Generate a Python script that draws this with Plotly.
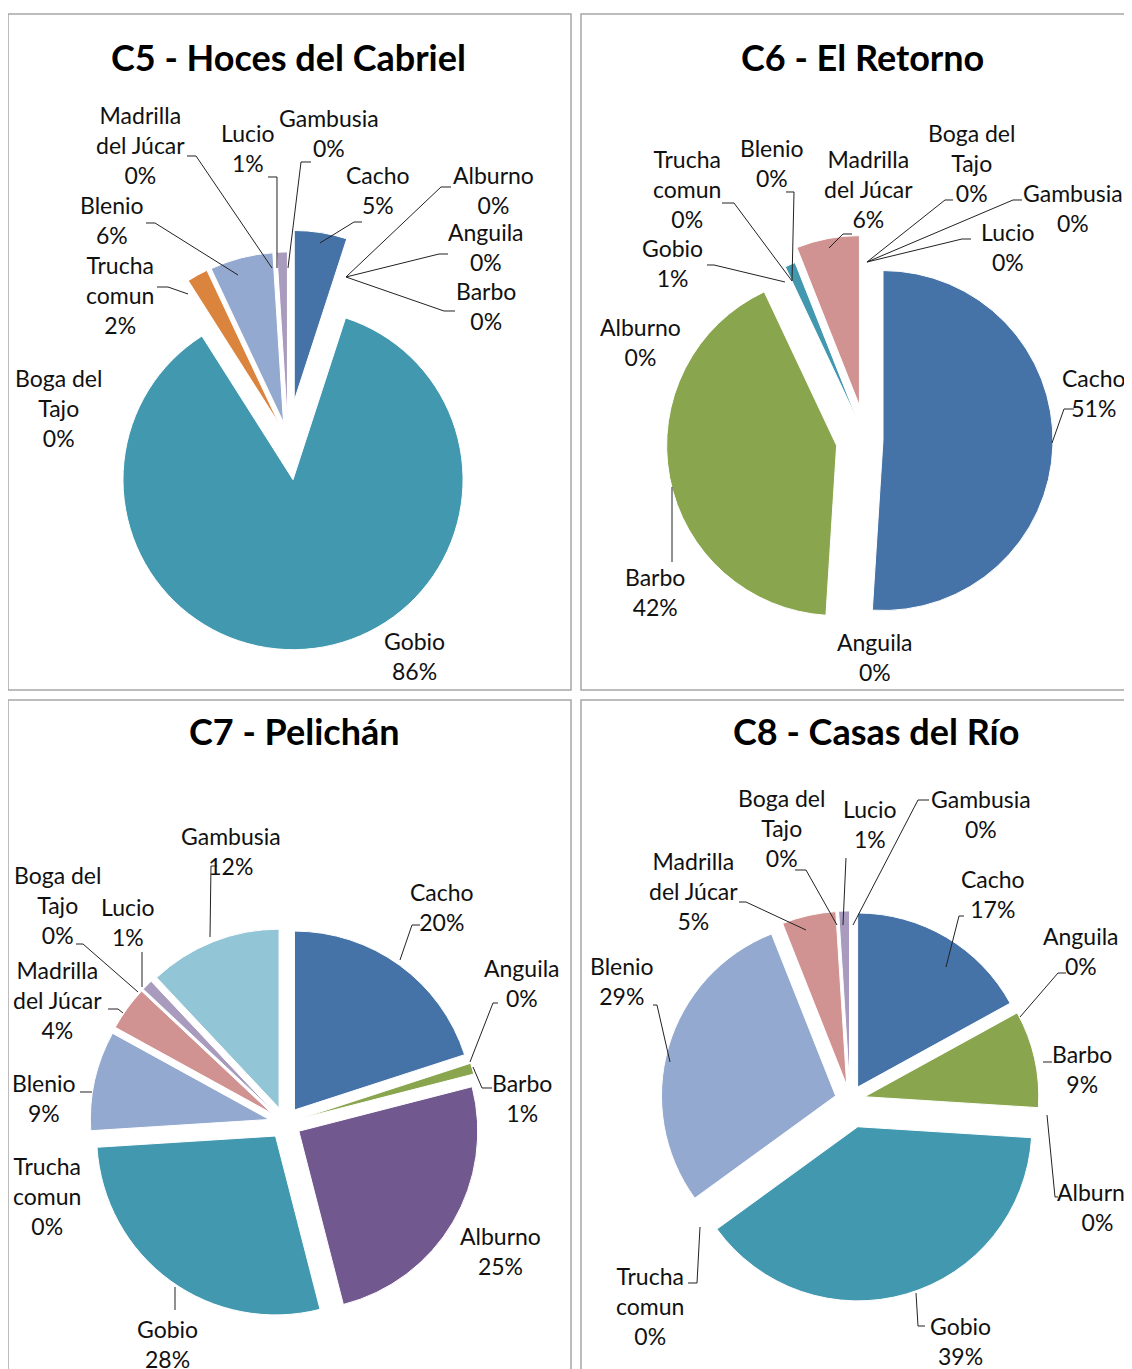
import plotly.graph_objects as go

# page offset of the html body (8 px) is compensated so that positions match the reference
OFF = 8
W, H = 1132 - OFF, 1369 - OFF

# ---------------- data ----------------
categories = ["Cacho", "Anguila", "Barbo", "Alburno", "Gobio", "Trucha comun",
              "Blenio", "Madrilla del Júcar", "Boga del Tajo", "Lucio", "Gambusia"]
c5_values = [5, 0, 0, 0, 86, 2, 6, 0, 0, 1, 0]
c6_values = [51, 0, 42, 0, 1, 0, 0, 6, 0, 0, 0]
c7_values = [20, 0, 1, 25, 28, 0, 9, 4, 0, 1, 12]
c8_values = [17, 0, 9, 0, 39, 0, 29, 5, 0, 1, 0]
titles = ["C5 - Hoces del Cabriel", "C6 - El Retorno", "C7 - Pelichán", "C8 - Casas del Río"]

# ---------------- style ----------------
colors = ["#4572A7", "#AA4643", "#89A54E", "#71588F", "#4198AF", "#DB843D",
          "#93A9CF", "#D19392", "#B9CD96", "#A99BBD", "#92C5D6"]
wrapped = {"Trucha comun": "Trucha<br>comun",
           "Madrilla del Júcar": "Madrilla<br>del Júcar",
           "Boga del Tajo": "Boga del<br>Tajo"}
FONT = "Lato, 'Open Sans', sans-serif"
LABEL_SIZE = 23
TITLE_SIZE = 36

def px(x):
    return (x - OFF) / W

def py(y):
    return 1 - (y - OFF) / H

# pie layout: centre (px), domain size (px), per-slice pull
charts = [
    dict(values=c5_values, title=titles[0], title_pos=(288, 57),
         center=(288, 440), size=420,
         pull=[0.235, 0.106, 0.106, 0.106, 0.235, 0.106, 0.106, 0.106, 0.106, 0.106, 0.106],
         labels={"Cacho": (378, 190), "Anguila": (486, 247), "Barbo": (486, 306),
                 "Alburno": (493, 190), "Gobio": (414, 656), "Trucha comun": (120, 295),
                 "Blenio": (112, 220), "Madrilla del Júcar": (140, 145),
                 "Boga del Tajo": (58, 408), "Lucio": (248, 148), "Gambusia": (329, 133)},
         leaders=[[(187, 156), (196, 156), (272, 268)],
                  [(268, 177), (277, 177), (277, 268)],
                  [(311, 162), (301, 162), (288, 268)],
                  [(362, 222), (354, 222), (320, 243)],
                  [(451, 187), (441, 187), (346, 277)],
                  [(448, 254), (439, 254), (346, 277)],
                  [(455, 311), (444, 311), (346, 277)],
                  [(146, 223), (155, 223), (238, 275)],
                  [(157, 287), (168, 287), (188, 294)]]),
    dict(values=c6_values, title=titles[1], title_pos=(862, 57),
         center=(866, 440), size=410,
         pull=[0.10, 0.15, 0.176, 0.15, 0.124, 0.15, 0.15, 0.206, 0.15, 0.15, 0.15],
         labels={"Cacho": (1094, 393), "Anguila": (875, 657), "Barbo": (655, 592),
                 "Alburno": (640, 342), "Gobio": (672, 263), "Trucha comun": (687, 189),
                 "Blenio": (772, 163), "Madrilla del Júcar": (868, 189),
                 "Boga del Tajo": (971, 163), "Lucio": (1008, 247), "Gambusia": (1073, 208)},
         leaders=[[(722, 203), (734, 203), (792, 281)],
                  [(786, 192), (794, 192), (792, 281)],
                  [(852, 234), (843, 234), (829, 248)],
                  [(953, 200), (945, 200), (867, 262)],
                  [(1022, 200), (1013, 200), (867, 262)],
                  [(971, 239), (962, 239), (867, 262)],
                  [(707, 265), (714, 265), (785, 282)],
                  [(1074, 409), (1064, 409), (1052, 443)],
                  [(672, 562), (672, 487)]]),
    dict(values=c7_values, title=titles[2], title_pos=(294, 731),
         center=(285, 1123), size=390,
         pull=[0.09] * 11,
         labels={"Cacho": (442, 907), "Anguila": (522, 983), "Barbo": (522, 1098),
                 "Alburno": (500, 1251), "Gobio": (167, 1344), "Trucha comun": (47, 1196),
                 "Blenio": (44, 1098), "Madrilla del Júcar": (57, 1000),
                 "Boga del Tajo": (57, 905), "Lucio": (128, 922), "Gambusia": (231, 851)},
         leaders=[[(217, 866), (211, 866), (210, 937)],
                  [(76, 944), (83, 944), (138, 992)],
                  [(142, 952), (142, 987)],
                  [(108, 1009), (118, 1009), (123, 1013)],
                  [(80, 1092), (92, 1092)],
                  [(420, 925), (412, 925), (400, 960)],
                  [(498, 1003), (493, 1003), (470, 1062)],
                  [(492, 1088), (482, 1088), (473, 1067)],
                  [(175, 1310), (175, 1287)]]),
    dict(values=c8_values, title=titles[3], title_pos=(876, 731),
         center=(850, 1100), size=404,
         pull=[0.086, 0.086, 0.086, 0.086, 0.16, 0.086, 0.086, 0.086, 0.086, 0.086, 0.086],
         labels={"Cacho": (993, 894), "Anguila": (1081, 951), "Barbo": (1082, 1069),
                 "Alburno": (1097, 1207), "Gobio": (960, 1341), "Trucha comun": (650, 1306),
                 "Blenio": (622, 981), "Madrilla del Júcar": (693, 891),
                 "Boga del Tajo": (781, 828), "Lucio": (870, 824), "Gambusia": (981, 814)},
         leaders=[[(795, 870), (806, 870), (837, 925)],
                  [(846, 858), (843, 925)],
                  [(929, 800), (918, 800), (853, 925)],
                  [(739, 902), (746, 902), (806, 930)],
                  [(964, 916), (959, 916), (946, 967)],
                  [(1066, 973), (1058, 973), (1020, 1017)],
                  [(1052, 1062), (1043, 1062)],
                  [(1058, 1197), (1055, 1197), (1047, 1115)],
                  [(653, 1005), (657, 1005), (670, 1062)],
                  [(688, 1283), (697, 1283), (700, 1227)],
                  [(925, 1326), (918, 1326), (916, 1293)]]),
]

panels = [(8, 14, 571, 690), (581, 14, 1140, 690), (8, 700, 571, 1375), (581, 700, 1140, 1375)]

fig = go.Figure()
annotations = []
shapes = []

for ch in charts:
    cx, cy = ch["center"]
    s = ch["size"]
    fig.add_trace(go.Pie(
        labels=categories, values=ch["values"], sort=False, direction="clockwise",
        rotation=0, pull=ch["pull"], textinfo="none", hoverinfo="label+percent",
        marker=dict(colors=colors, line=dict(color="white", width=1)),
        domain=dict(x=[px(cx - s / 2), px(cx + s / 2)], y=[py(cy + s / 2), py(cy - s / 2)]),
        showlegend=False,
    ))
    total = sum(ch["values"])
    for name, v in zip(categories, ch["values"]):
        pct = int(100 * v / total + 0.5)
        lx, ly = ch["labels"][name]
        annotations.append(dict(
            x=px(lx), y=py(ly), xref="paper", yref="paper", showarrow=False,
            text=f"{wrapped.get(name, name)}<br>{pct}%", align="center",
            xanchor="center", yanchor="middle",
            font=dict(family=FONT, size=LABEL_SIZE, color="#111111")))
    tx, ty = ch["title_pos"]
    annotations.append(dict(
        x=px(tx), y=py(ty), xref="paper", yref="paper", showarrow=False,
        text=f"<b>{ch['title']}</b>", xanchor="center", yanchor="middle",
        font=dict(family=FONT, size=TITLE_SIZE, color="#000000")))
    for pts in ch["leaders"]:
        path = "M " + " L ".join(f"{px(a):.5f},{py(b):.5f}" for a, b in pts)
        shapes.append(dict(type="path", path=path, xref="paper", yref="paper",
                           line=dict(color="#222222", width=1)))

for x0, y0, x1, y1 in panels:
    shapes.append(dict(type="rect", xref="paper", yref="paper",
                       x0=px(x0), x1=px(x1), y0=py(y1), y1=py(y0),
                       line=dict(color="#A6A6A6", width=1.5), fillcolor="rgba(0,0,0,0)"))

fig.update_layout(width=W, height=H, margin=dict(l=0, r=0, t=0, b=0),
                  paper_bgcolor="white", plot_bgcolor="white",
                  annotations=annotations, shapes=shapes, showlegend=False)

fig.write_html("out.html")
